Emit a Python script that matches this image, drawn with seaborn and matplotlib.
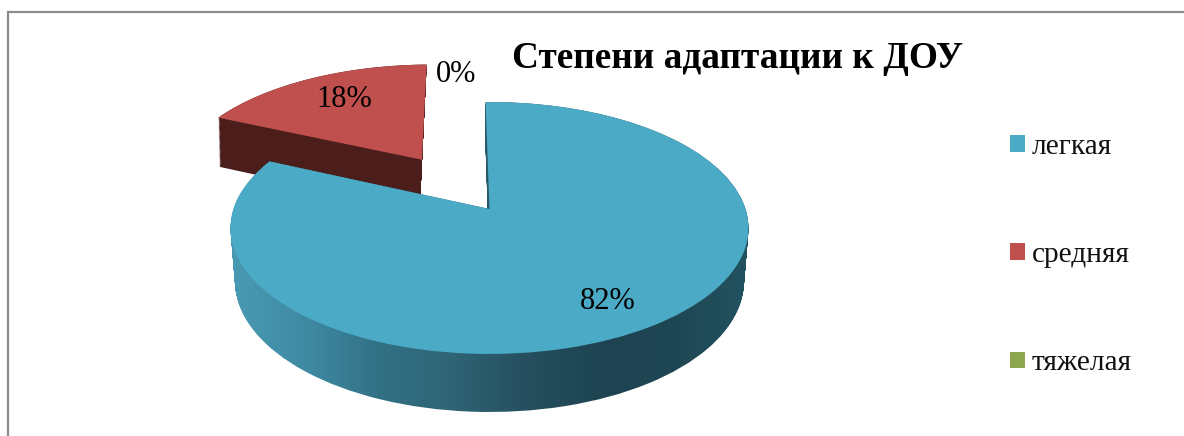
"""Pie chart of adaptation levels, drawn with a tilted 3D look."""

import matplotlib

matplotlib.use("Agg")

import matplotlib.pyplot as plt
import numpy as np
import seaborn as sns
from matplotlib.colors import LinearSegmentedColormap
from matplotlib.patches import Patch
from matplotlib.path import Path
from matplotlib.transforms import Transform

title = "Степени адаптации к ДОУ"
categories = ["легкая", "средняя", "тяжелая"]
shares = [82, 18, 0]

explode = [0, 0.51, 0]
colors = ["#4baac6", "#bf504d", "#8ba64e"]
red_side = "#4b1e1c"
side_shades = ["#4b9ab4", "#3f8ba3", "#337186", "#2e6475", "#264f5f", "#1d4450", "#1f4753", "#225361"]
label_spots = [(608, 301), (344, 99), (456, 75)]

# (top face, bottom face) of the pie in picture pixels
CENTER_X = (489.5, 489.5)
CENTER_Y = (209.0, 261.6)
SCALE_X = (256.0, 251.6)
SCALE_Y = (123.1, 127.7)
TILT = 0.1508


class PieView(Transform):
    """Perspective view of the unit pie; t=0 is the top face, t=1 the bottom."""

    input_dims = 2
    output_dims = 2

    def __init__(self, t, shift=0.0):
        super().__init__()
        self.t = t
        self.shift = shift

    def transform_non_affine(self, values):
        values = np.asarray(values, dtype=float)
        x, y = values[:, 0], values[:, 1]
        mix = lambda pair: pair[0] + (pair[1] - pair[0]) * self.t
        w = 1 + TILT * y
        return np.column_stack(
            [
                mix(CENTER_X) - self.shift * self.t + mix(SCALE_X) * x / w,
                mix(CENTER_Y) - mix(SCALE_Y) * y / w,
            ]
        )


sns.set_theme(style="white")
plt.rcParams["font.family"] = ["Liberation Serif", "DejaVu Serif"]

fig = plt.figure(figsize=(11.84, 4.36), dpi=100)
ax = fig.add_axes([0, 0, 1, 1])
palette = sns.color_palette(colors)


def pie_layer(t, zorder, face=None, shift=0.0):
    wedges, _ = ax.pie(
        shares,
        explode=explode,
        startangle=91,
        counterclock=False,
        colors=palette if face is None else [face] * len(shares),
        labeldistance=None,
        wedgeprops={"linewidth": 0, "zorder": zorder},
    )
    view = PieView(t, shift)
    for wedge in wedges:
        wedge.set_transform(view + ax.transData)
    return wedges, view


# red side wall, stacked from the bottom up
depths = np.linspace(1, 0, 45)
for t in depths:
    wedges, _ = pie_layer(t, 1, red_side, shift=3.5)
    wedges[0].set_visible(False)
    wedges[2].set_visible(False)

wedges, _ = pie_layer(0, 2)
wedges[0].set_visible(False)
wedges[2].set_visible(False)

# blue side wall: horizontal shading clipped to the swept outline
outlines = []
for t in depths:
    wedges, view = pie_layer(t, 3)
    outlines.append(view.transform_path(wedges[0].get_path()))
    for wedge in wedges:
        wedge.set_visible(False)

shade = LinearSegmentedColormap.from_list("side", side_shades)
image = ax.imshow(
    np.linspace(0, 1, 256)[np.newaxis, :],
    cmap=shade,
    extent=(228, 752, 436, 0),
    aspect="auto",
    zorder=3,
)
image.set_clip_path(Path.make_compound_path(*outlines), ax.transData)

top_wedges, _ = pie_layer(0, 4)
top_wedges[1].set_visible(False)

for share, spot in zip(shares, label_spots):
    ax.text(*spot, f"{share}%", fontsize=22, color="black", ha="center", va="center", zorder=5)

ax.text(737.5, 59, title, fontsize=26.8, fontweight="bold", color="black", ha="center", va="center", zorder=5)

handles = [Patch(facecolor=color, linewidth=0) for color in palette]
ax.legend(
    handles,
    categories,
    loc="center left",
    bbox_to_anchor=(983, 255),
    bbox_transform=ax.transData,
    frameon=False,
    fontsize=21.2,
    handlelength=0.51,
    handleheight=0.51,
    handletextpad=0.24,
    labelspacing=2.8,
    labelcolor="#111111",
)

# the chart frame runs off the picture at the right and bottom
ax.plot([7.5, 7.5, 1184], [436, 12, 12], color="#8c8c8c", linewidth=1.6, zorder=6, solid_joinstyle="miter")

ax.set_aspect("auto")
ax.set_xlim(0, 1184)
ax.set_ylim(436, 0)
ax.axis("off")

fig.savefig("out.png", dpi=100, facecolor="white")
